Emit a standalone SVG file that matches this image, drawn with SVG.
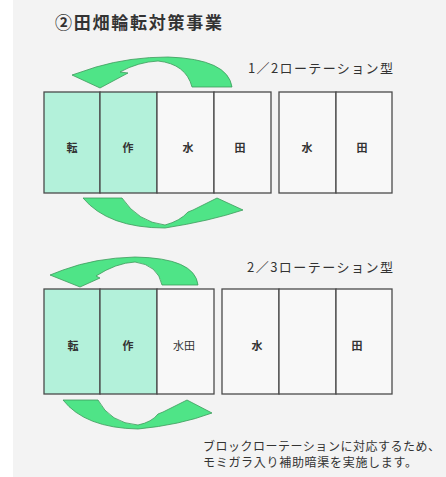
<svg xmlns="http://www.w3.org/2000/svg" width="446" height="477" viewBox="0 0 446 477">
<style>
.cell{stroke:#4a4a4a;stroke-width:1.3}
.g{fill:#b3f1da}
.w{fill:#f8f8f8}
.lbl{font-family:"Noto Sans CJK JP","Noto Sans CJK SC",sans-serif;font-size:11px;font-weight:bold;fill:#333;text-anchor:middle;dominant-baseline:central}
.cap{font-family:"Noto Sans CJK JP","Noto Sans CJK SC",sans-serif;font-size:13px;fill:#333}
.note{font-family:"Noto Sans CJK JP","Noto Sans CJK SC",sans-serif;font-size:12px;fill:#333}
.arr{fill:#4fe487;stroke:#3d9a5c;stroke-width:0.8;stroke-linejoin:round}
</style>
<rect x="13" y="0" width="433" height="477" fill="#f3f3f3"/>
<text x="55" y="29" font-family="'Noto Sans CJK JP','Noto Sans CJK SC',sans-serif" font-size="17" font-weight="bold" fill="#333" textLength="167" lengthAdjust="spacing">②田畑輪転対策事業</text>

<g id="caption1"><text class="cap" x="248" y="73" textLength="145" lengthAdjust="spacing">1／2ローテーション型</text></g>
<g id="caption2"><text class="cap" x="247" y="272" textLength="146" lengthAdjust="spacing">2／3ローテーション型</text></g>

<g id="r1c1"><rect class="cell g" x="44" y="92" width="56" height="101"/><text class="lbl" x="72" y="147">転</text></g>
<g id="r1c2"><rect class="cell g" x="100" y="92" width="57" height="101"/><text class="lbl" x="128" y="147">作</text></g>
<g id="r1c3"><rect class="cell w" x="157" y="92" width="57" height="101"/><text class="lbl" x="188" y="147">水</text></g>
<g id="r1c4"><rect class="cell w" x="214" y="92" width="57" height="101"/><text class="lbl" x="240" y="147">田</text></g>
<g id="r1c5"><rect class="cell w" x="279" y="92" width="57" height="101"/><text class="lbl" x="307" y="147">水</text></g>
<g id="r1c6"><rect class="cell w" x="336" y="92" width="56" height="101"/><text class="lbl" x="362" y="147">田</text></g>

<g id="r2c1"><rect class="cell g" x="44" y="289" width="56" height="105"/><text class="lbl" x="73" y="345">転</text></g>
<g id="r2c2"><rect class="cell g" x="100" y="289" width="57" height="105"/><text class="lbl" x="128" y="345">作</text></g>
<g id="r2c3"><rect class="cell w" x="157" y="289" width="57" height="105"/><text class="lbl" x="184" y="345" style="font-weight:normal">水田</text></g>
<g id="r2c4"><rect class="cell w" x="222" y="289" width="57" height="105"/><text class="lbl" x="257" y="345">水</text></g>
<g id="r2c5"><rect class="cell w" x="279" y="289" width="57" height="105"/></g>
<g id="r2c6"><rect class="cell w" x="336" y="289" width="56" height="105"/><text class="lbl" x="357" y="345">田</text></g>

<g id="connectors">
<path class="arr" d="M232,87 Q228,59 168,57 Q130,57 96,67 L72,75 L100,88 L128,73 L120,72 Q138,62 158,61 Q186,64 192,87 Z"/>
<path class="arr" d="M83,198 L122,198 Q138,222 165,225 Q180,221 188,212 L193,210 L217,198 L243,210 Q210,221 165,228 Q108,228 83,198 Z"/>
<path class="arr" d="M198,285 Q195,258 135,257 Q95,258 63,270 L50,275 L80,287 L100,278 L96,276 Q116,263 135,262 Q158,265 162,285 Z"/>
<path class="arr" d="M63,400 L98,400 Q110,423 138,425 Q152,422 158,414 L163,412 L187,400 L212,413 Q180,425 138,429 Q85,428 63,400 Z"/>
</g>

<g id="note">
<text class="note" x="203" y="451" textLength="237" lengthAdjust="spacing">ブロックローテーションに対応するため、</text>
<text class="note" x="203" y="467" textLength="214" lengthAdjust="spacing">モミガラ入り補助暗渠を実施します。</text>
</g>
</svg>
